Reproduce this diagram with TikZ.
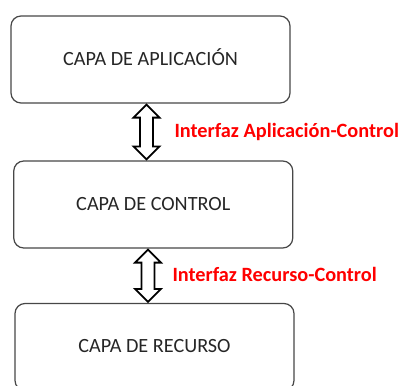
\documentclass[tikz,border=0pt]{standalone}
\usepackage{fontspec}
\setmainfont{Carlito}
\usetikzlibrary{calc}
\tikzset{
  layer/.style={draw=black!72, line width=1.2pt, rounded corners=10pt,
    minimum width=279pt, minimum height=87pt, inner sep=0pt,
    font=\fontsize{20.2}{24}\selectfont, text=black!85,
    text height=0.644em+5pt, text depth=0pt},
  iface/.style={text=red, font=\bfseries\fontsize{20.3}{24}\selectfont,
    anchor=base west, inner sep=0pt},
  dblarrow/.style={draw=black, line width=1.8pt, fill=white, line join=miter},
}
\newcommand{\dblarr}[2]{%
  \draw[dblarrow] (#1) -- ($(#1)+(13,13)$) -- ($(#1)+(6.5,13)$)
    -- ($(#2)+(6.5,-13)$) -- ($(#2)+(13,-13)$) -- (#2)
    -- ($(#2)+(-13,-13)$) -- ($(#2)+(-6.5,-13)$)
    -- ($(#1)+(-6.5,13)$) -- ($(#1)+(-13,13)$) -- cycle;}
\begin{document}
\begin{tikzpicture}[x=1pt,y=-1pt]
\useasboundingbox (0,0) rectangle (401,385);
\node[layer] (app) at (150.5,59.5) {CAPA DE APLICACIÓN};
\node[layer] (ctl) at (153.25,204.5) {CAPA DE CONTROL};
\node[layer] (res) at (154.5,347) {CAPA DE RECURSO};
\coordinate (a1) at ($(app.south)+(-4,1)$);
\coordinate (a2) at ($(ctl.north)+(-6.75,-1)$);
\coordinate (b1) at ($(ctl.south)+(-5.25,1)$);
\coordinate (b2) at ($(res.north)+(-6.5,-1)$);
\dblarr{a1}{a2}
\dblarr{b1}{b2}
\node[iface] (l1) at (174.3,137.8) {Interfaz Aplicación-Control};
\node[iface] (l2) at (172.3,281.7) {Interfaz Recurso-Control};
\end{tikzpicture}
\end{document}
